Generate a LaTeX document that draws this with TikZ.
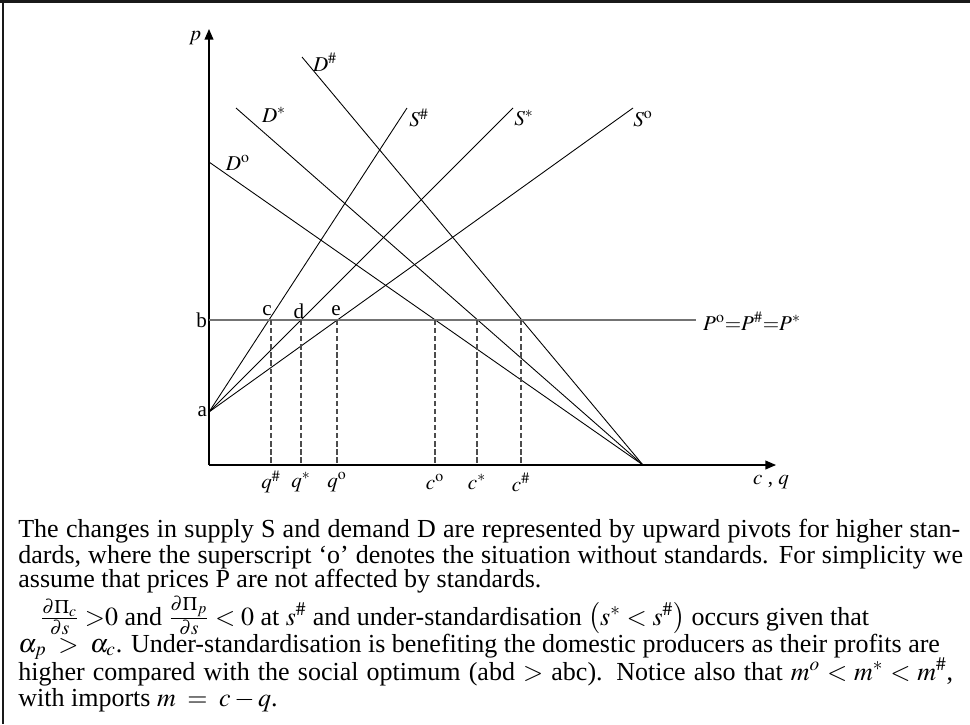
\documentclass[tikz,border=0pt]{standalone}
\usepackage{mathptmx}
\usepackage{fontspec}
\setmainfont{Liberation Serif}
\usetikzlibrary{arrows.meta}

\begin{document}
\begin{tikzpicture}[x=0.02cm, y=-0.02cm,
    axis/.style={line width=0.7pt, -{Triangle[length=6pt, width=5pt]}},
    curve/.style={line width=0.5pt},
    price/.style={line width=1.1pt, black!55},
    guide/.style={line width=0.6pt, black!70, dash pattern=on 3pt off 1.6pt},
    lbl/.style={font=\fontsize{12}{14}\selectfont, inner sep=1pt},
    capline/.style={anchor=base west, inner sep=0pt, font=\fontsize{14.8}{17}\selectfont},
    frame/.style={line width=1.4pt, black!90}
]
\useasboundingbox (0,0) rectangle (970,724);
% frame
\coordinate (fTL) at (0,1.5);
\coordinate (fTR) at (970,1.5);
\coordinate (fL) at (3,0);
\coordinate (fB) at (3,724);
\draw[frame] (fTL) -- (fTR);
\draw[frame] (fL) -- (fB);

% axes
\coordinate (O) at (209,465);
\coordinate (ytip) at (209,29);
\coordinate (xtip) at (776,465);
\draw[axis] (O) -- (ytip);
\draw[axis] (O) -- (xtip);
\node[lbl] (p) at (195,38) {$p$};
\node[lbl] (cq) at (771,482) {$c$ , $q$};

% pivots
\coordinate (a) at (209,412);
\coordinate (b) at (209,320);
\coordinate (Dend) at (643,465);
\node[lbl, anchor=east] (alab) at (a) {a};
\node[lbl, anchor=east] (blab) at (b) {b};

% supply curves
\coordinate (Ssharp) at (407,108);
\coordinate (Sstar) at (513,108);
\coordinate (So) at (633,108);
\foreach \t in {Ssharp,Sstar,So}
  \draw[curve] (a) -- (\t);
\node[lbl] (Ssharplab) at (419,118) {$S^{\#}$};
\node[lbl] (Sstarlab) at (524,118) {$S^{*}$};
\node[lbl] (Solab) at (643,119) {$S^{\mathrm{o}}$};

% demand curves
\coordinate (Do) at (209,162);
\coordinate (Dstar) at (236,108);
\coordinate (Dsharp) at (302,57);
\foreach \s in {Do,Dstar,Dsharp}
  \draw[curve] (\s) -- (Dend);
\node[lbl] (Dsharplab) at (325,62) {$D^{\#}$};
\node[lbl] (Dstarlab) at (274,115) {$D^{*}$};
\node[lbl] (Dolab) at (238,163) {$D^{\mathrm{o}}$};

% world price
\coordinate (bend) at (696,320);
\draw[price] (b) -- (bend);
\node[lbl, anchor=west] (Plab) at (701,321) {$P^{\mathrm{o}}{=}P^{\#}{=}P^{*}$};
\node[lbl] (clab) at (267,311) {c};
\node[lbl] (dlab) at (299,311) {d};
\node[lbl] (elab) at (336,311) {e};

% quantities
\foreach \n/\x/\l in {qsharp/271/{q^{\#}}, qstar/301/{q^{*}}, qo/337/{q^{\mathrm{o}}},
                      co/435/{c^{\mathrm{o}}}, cstar/477/{c^{*}}, csharp/521/{c^{\#}}} {
  \coordinate (\n top) at (\x,320);
  \coordinate (\n bot) at (\x,465);
  \draw[guide] (\n top) -- (\n bot);
  \node[lbl] (\n lab) at (\x,482) {$\l$};
}

% caption, line by line
\node[capline] (l1) at (18,537) {\makebox[18.84cm][s]{The changes in supply S and demand D are represented by upward pivots for higher stan-}};
\node[capline] (l2) at (18,563) {\makebox[18.9cm][s]{dards, where the superscript ‘o’ denotes the situation without standards. For simplicity we}};
\node[capline] (l3) at (18,587) {assume that prices P are not affected by standards.};
\node[capline] (l4) at (40,625) {$\frac{\partial\Pi_c}{\partial s}\;{>}0$ and $\frac{\partial\Pi_p}{\partial s} < 0$ at $s^{\#}$ and under-standardisation $\left(s^{*} < s^{\#}\right)$ occurs given that};
\node[capline] (l5) at (18,652) {$\alpha_p\;>\;\alpha_c$. Under-standardisation is benefiting the domestic producers as their profits are};
\node[capline] (l6) at (18,680) {\makebox[18.7cm][s]{higher compared with the social optimum (abd $>$ abc). Notice also that $m^{o} < m^{*} < m^{\#}$,}};
\node[capline] (l7) at (18,706) {with imports $m \;=\; c - q$.};
\end{tikzpicture}
\end{document}
